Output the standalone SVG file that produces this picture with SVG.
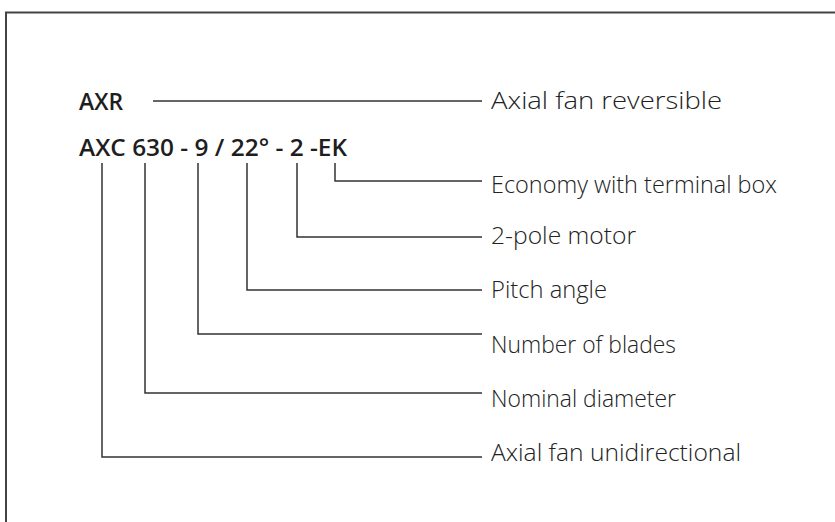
<svg xmlns="http://www.w3.org/2000/svg" width="835" height="522" viewBox="0 0 835 522">
<style>
.frame{fill:none;stroke:#444;stroke-width:2}
.con{fill:none;stroke:#333;stroke-width:1.5}
.code{font-family:"Open Sans","Liberation Sans",sans-serif;font-size:23px;font-weight:600;fill:#1e1e1e}
.lbl{font-family:"Open Sans","Liberation Sans",sans-serif;font-size:23px;font-weight:300;fill:#222}
</style>
<rect width="835" height="522" fill="#fff"/>
<path class="frame" d="M6,522 V12.5 H835"/>
<g id="code-axr"><text class="code" x="79" y="110" textLength="44" lengthAdjust="spacingAndGlyphs">AXR</text></g>
<g id="code-axc"><text class="code" x="79" y="156" textLength="268" lengthAdjust="spacingAndGlyphs">AXC 630 - 9 / 22° - 2 -EK</text></g>
<g id="connectors">
<path class="con" d="M153,101 H482"/>
<path class="con" d="M335,163 V181 H482"/>
<path class="con" d="M297,163 V237 H482"/>
<path class="con" d="M247,163 V290 H482"/>
<path class="con" d="M198,163 V334 H482"/>
<path class="con" d="M145,163 V393 H482"/>
<path class="con" d="M102,163 V457 H482"/>
</g>
<g id="label-reversible"><text class="lbl" x="491" y="109" textLength="231" lengthAdjust="spacingAndGlyphs">Axial fan reversible</text></g>
<g id="label-economy"><text class="lbl" x="491" y="193" textLength="286" lengthAdjust="spacingAndGlyphs">Economy with terminal box</text></g>
<g id="label-motor"><text class="lbl" x="491" y="244" textLength="145" lengthAdjust="spacingAndGlyphs">2-pole motor</text></g>
<g id="label-pitch"><text class="lbl" x="491" y="298" textLength="116" lengthAdjust="spacingAndGlyphs">Pitch angle</text></g>
<g id="label-blades"><text class="lbl" x="491" y="353" textLength="185" lengthAdjust="spacingAndGlyphs">Number of blades</text></g>
<g id="label-diameter"><text class="lbl" x="491" y="407" textLength="185" lengthAdjust="spacingAndGlyphs">Nominal diameter</text></g>
<g id="label-unidirectional"><text class="lbl" x="491" y="461" textLength="250" lengthAdjust="spacingAndGlyphs">Axial fan unidirectional</text></g>
</svg>
